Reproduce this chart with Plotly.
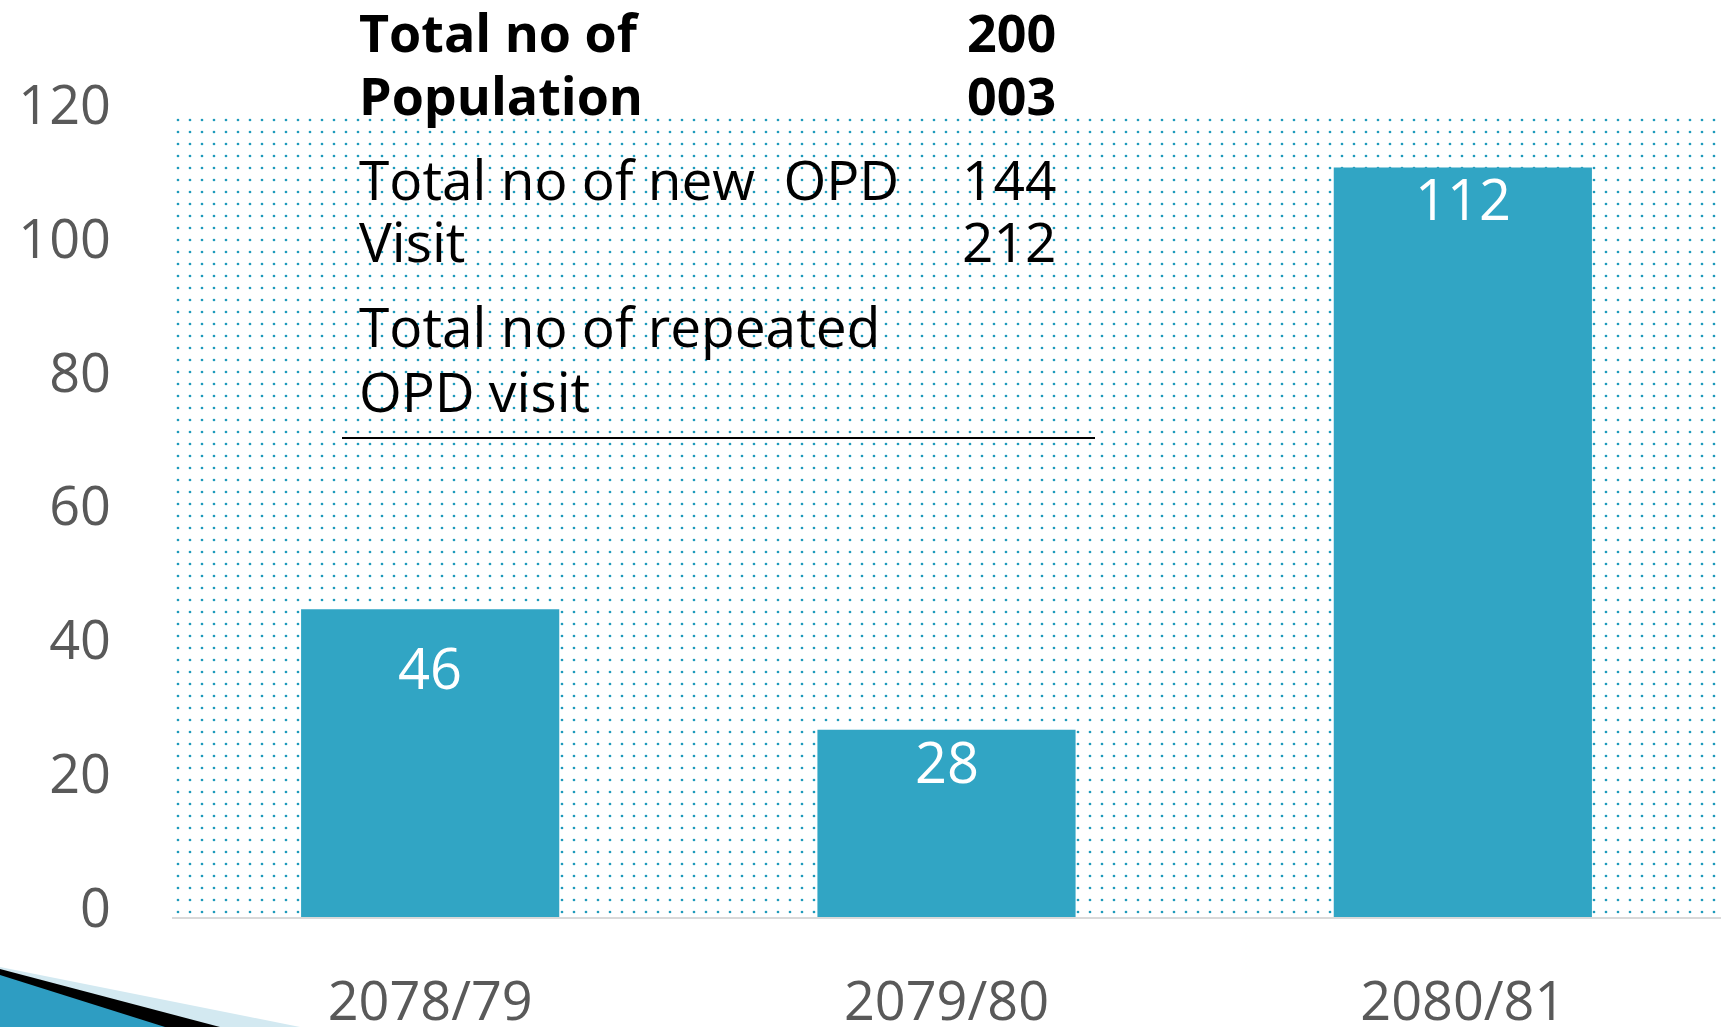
import plotly.graph_objects as go

# ---------------- data ----------------
years = ["2078/79", "2079/80", "2080/81"]
values = [46, 28, 112]
y_ticks = [0, 20, 40, 60, 80, 100, 120]

info_labels = ["Total no of", "Population", "Total no of new  OPD", "Visit",
               "Total no of repeated", "OPD visit"]
info_values = ["200", "003", "144", "212", "", ""]
info_bold = [True, True, False, False, False, False]

# ---------------- layout helpers ----------------
W, H = 1731, 1027
ML, MR, MT, MB = 172, 10, 114, 110
PW, PH = W - ML - MR, H - MT - MB


def px(x):
    return (x - ML) / PW


def py(y):
    return (H - MB - y) / PH


FONT = "Open Sans"
GRAY = "#595959"
BAR = "#31A5C4"
DOT = "#1E9ABB"
label_drop_px = [58, 31, 30]   # distance of each value label below its bar top

fig = go.Figure()

# dotted plot-area background
fig.add_trace(go.Bar(
    x=[years[1]], y=[y_ticks[-1]], width=[len(years)],
    marker=dict(color="white", line=dict(width=0),
                pattern=dict(shape=".", fgcolor=DOT, bgcolor="white",
                             size=12, solidity=0.04, fillmode="replace")),
    hoverinfo="skip", showlegend=False,
))

fig.add_trace(go.Bar(
    x=years, y=values, width=0.5,
    marker=dict(color=BAR, line=dict(width=0)),
    hoverinfo="skip", showlegend=False,
))

annotations = []
# value labels inside the bars
for yr, v, d in zip(years, values, label_drop_px):
    annotations.append(dict(
        x=yr, y=v, xref="x", yref="y", xanchor="center", yanchor="middle",
        yshift=-d, showarrow=False, text=str(v),
        font=dict(family=FONT, size=56, color="white")))

# info text block
line_y = [31, 95, 178, 241, 326, 390]
for lab, val, b, yy in zip(info_labels, info_values, info_bold, line_y):
    size = 52 if b else 55
    txt = f"<b>{lab}</b>" if b else lab
    annotations.append(dict(
        x=px(357), y=py(yy), xref="paper", yref="paper",
        xanchor="left", yanchor="middle", showarrow=False,
        text=txt, font=dict(family=FONT, size=size, color="black")))
    if val:
        vtxt = f"<b>{val}</b>" if b else val
        annotations.append(dict(
            x=px(1058), y=py(yy), xref="paper", yref="paper",
            xanchor="right", yanchor="middle", showarrow=False,
            text=vtxt, font=dict(family=FONT, size=size, color="black")))

shapes = [
    # rule under the text block
    dict(type="line", xref="paper", yref="paper",
         x0=px(342), x1=px(1095), y0=py(438), y1=py(438),
         line=dict(color="black", width=2)),
    # slide decoration bottom-left
    dict(type="path", xref="paper", yref="paper", layer="above",
         path=f"M {px(0)},{py(967)} L {px(300)},{py(1027)} L {px(0)},{py(1027)} Z",
         fillcolor="#D3E9F1", line=dict(width=0)),
    dict(type="path", xref="paper", yref="paper", layer="above",
         path=f"M {px(0)},{py(969)} L {px(220)},{py(1027)} L {px(0)},{py(1027)} Z",
         fillcolor="black", line=dict(width=0)),
    dict(type="path", xref="paper", yref="paper", layer="above",
         path=f"M {px(0)},{py(975)} L {px(165)},{py(1027)} L {px(0)},{py(1027)} Z",
         fillcolor="#2E9DC2", line=dict(width=0)),
]

fig.update_layout(
    width=W, height=H,
    margin=dict(l=ML, r=MR, t=MT, b=MB, pad=0, autoexpand=False),
    paper_bgcolor="white", plot_bgcolor="white",
    barmode="overlay", bargap=0.5,
    showlegend=False,
    annotations=annotations, shapes=shapes,
    font=dict(family=FONT, color=GRAY),
)
fig.update_xaxes(
    type="category", categoryorder="array", categoryarray=years,
    range=[-0.5, len(years) - 0.5], automargin=False,
    showgrid=False, zeroline=False,
    showline=True, linecolor="#D9D9D9", linewidth=2,
    ticks="", ticklabelstandoff=36,
    tickfont=dict(family=FONT, size=54, color=GRAY),
)
fig.update_yaxes(
    range=[y_ticks[0], y_ticks[-1]], tickvals=y_ticks, automargin=False,
    showgrid=False, zeroline=False, showline=False,
    ticks="", ticklabelstandoff=60, ticklabelshift=-9,
    tickfont=dict(family=FONT, size=54, color=GRAY),
)

fig.write_html("out.html", config={"displayModeBar": False},
               post_script="document.body.style.margin='0';")
